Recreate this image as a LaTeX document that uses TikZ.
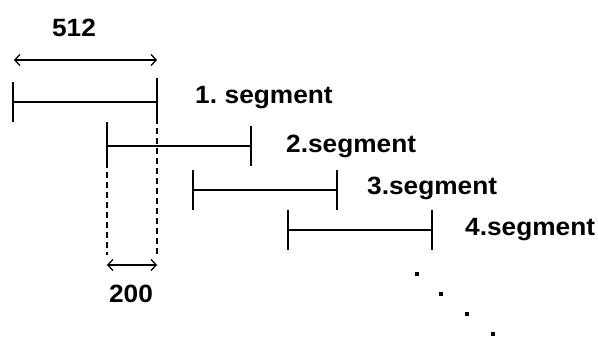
\documentclass[tikz,border=0pt]{standalone}
\usepackage{fontspec}
\setmainfont{Liberation Sans}
\usetikzlibrary{arrows.meta}
\begin{document}
\begin{tikzpicture}[x=1pt,y=-1pt,
  seg/.style={line width=1.6pt},
  dim/.style={line width=1.3pt,{Straight Barb[length=5pt,width=11pt]}-{Straight Barb[length=5pt,width=11pt]}},
  guide/.style={line width=1.4pt,dash pattern=on 6pt off 4pt},
  lbl/.style={anchor=base west,inner sep=0pt,xscale=1.05,font=\fontsize{25}{30}\selectfont\bfseries},
  numlbl/.style={anchor=base,inner sep=0pt,xscale=1.05,font=\fontsize{25}{30}\selectfont\bfseries},
  pt/.style={fill=black,draw=none,minimum size=4pt,inner sep=0pt}]
\useasboundingbox (0,0) rectangle (598,352);

% segment end points
\coordinate (s1a) at (13,102);  \coordinate (s1b) at (157,102);
\coordinate (s2a) at (107,146); \coordinate (s2b) at (251,146);
\coordinate (s3a) at (193,190); \coordinate (s3b) at (337,190);
\coordinate (s4a) at (288,230); \coordinate (s4b) at (432,230);

% segments with end ticks
\foreach \a/\b in {s1a/s1b,s2a/s2b,s3a/s3b,s4a/s4b}{
  \draw[seg] (\a) -- (\b);
  \draw[seg] ([yshift=-20pt]\a) -- ([yshift=20pt]\a);
  \draw[seg] ([yshift=-20pt]\b) -- ([yshift=20pt]\b);
}

% labels
\node[lbl] (l1) at (195,104) {1.\kern-2pt{} segment};
\node[lbl] (l2) at (286,153) {2.segment};
\node[lbl] (l3) at (367,195) {3.segment};
\node[lbl] (l4) at (465,236) {4.segment};

% overall length
\coordinate (d1a) at (14,60); \coordinate (d1b) at (157,60);
\draw[dim] (d1a) -- (d1b);
\node[numlbl] (n512) at (74,37) {512};

% overlap
\coordinate (g1) at (107,255); \coordinate (g2) at (157,255);
\draw[guide] ([yshift=24pt]s2a) -- (g1);
\draw[guide] ([yshift=24pt]s1b) -- (g2);
\coordinate (d2a) at (107,265); \coordinate (d2b) at (157,265);
\draw[dim] (d2a) -- (d2b);
\node[numlbl] (n200) at (131,303) {200};

% continuation dots
\node[pt] (p1) at (417,274) {};
\node[pt] (p2) at (441,294) {};
\node[pt] (p3) at (467,314) {};
\node[pt] (p4) at (493,334) {};
\node[pt] (p5) at (518,354) {};
\end{tikzpicture}
\end{document}
